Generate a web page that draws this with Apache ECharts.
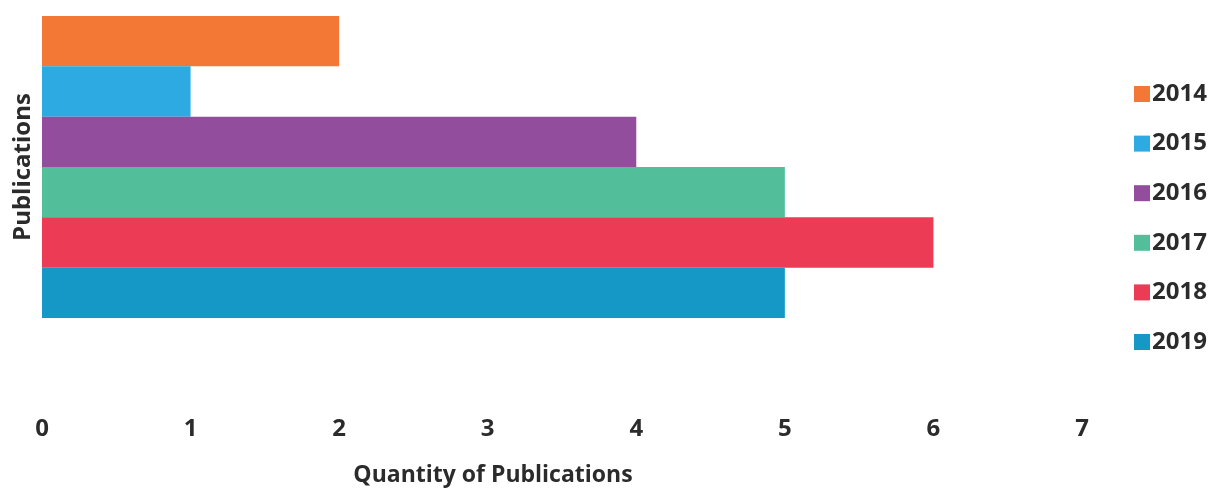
<!DOCTYPE html>
<html>
<head>
<meta charset="utf-8">
<script src="https://cdn.jsdelivr.net/npm/echarts@6/dist/echarts.min.js"></script>
<style>
  html, body { margin: 0; padding: 0; background: #fff; }
  #chart { width: 1216px; height: 488px; }
</style>
</head>
<body>
<div id="chart"></div>
<script>
// Publications per year, drawn as a stack of horizontal bars
const years = ['2014', '2015', '2016', '2017', '2018', '2019'];
const counts = [2, 1, 4, 5, 6, 5];
const colors = ['#F37735', '#2EAAE2', '#924D9C', '#52BE9A', '#EB3B55', '#1598C6'];
const categories = [''];
const xTicks = [0, 1, 2, 3, 4, 5, 6, 7];

const font = '"Open Sans", Lato, sans-serif';
const textColor = '#2b2b2b';

const chart = echarts.init(document.getElementById('chart'));

chart.setOption({
  animation: false,
  grid: { left: 42, top: 16, width: 1040, height: 302, outerBoundsMode: 'none' },
  legend: {
    orient: 'vertical',
    left: 1129,
    top: 77,
    icon: 'rect',
    itemWidth: 16,
    itemHeight: 16,
    itemGap: 25.6,
    data: years,
    textStyle: { color: textColor, fontSize: 24, fontWeight: 'bold', fontFamily: font, padding: [0, 0, 0, -3] }
  },
  xAxis: {
    type: 'value',
    min: xTicks[0],
    max: xTicks[xTicks.length - 1],
    interval: 1,
    axisLine: { show: false },
    axisTick: { show: false },
    splitLine: { show: false },
    axisLabel: { margin: 99, color: textColor, fontSize: 24, fontWeight: 'bold', fontFamily: font },
    name: 'Quantity of Publications',
    nameLocation: 'middle',
    nameGap: 146,
    // title sits a little left of the plot centre
    nameTextStyle: { color: textColor, fontSize: 23, fontWeight: 'bold', fontFamily: font, padding: [0, 138, 0, 0] }
  },
  yAxis: {
    type: 'category',
    data: categories,
    inverse: true,
    axisLine: { show: false },
    axisTick: { show: false },
    axisLabel: { show: false },
    name: 'Publications',
    nameLocation: 'middle',
    nameGap: 7,
    nameTextStyle: { color: textColor, fontSize: 24, fontWeight: 'bold', fontFamily: font }
  },
  series: years.map((y, i) => ({
    name: y,
    type: 'bar',
    data: [counts[i]],
    barGap: 0,
    barCategoryGap: 0,
    itemStyle: { color: colors[i] }
  }))
});
</script>
</body>
</html>
